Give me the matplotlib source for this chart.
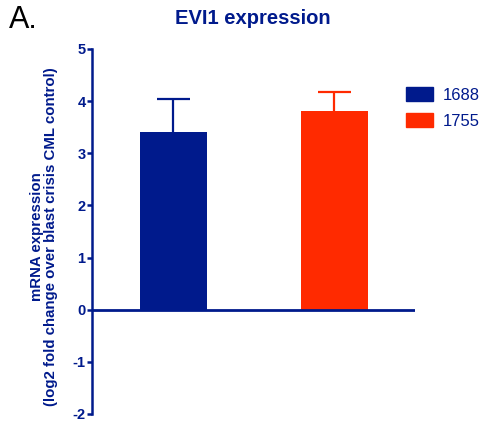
import matplotlib
matplotlib.use("Agg")
import matplotlib.pyplot as plt
from matplotlib.patches import Patch

plt.rcParams['font.family'] = ['Liberation Sans', 'DejaVu Sans']

categories = ["1688", "1755"]
values = [3.40, 3.81]
errors = [0.63, 0.36]
colors = ["#001a8c", "#ff2a00"]
yticks = [-2, -1, 0, 1, 2, 3, 4, 5]

blue = "#001a8c"
bar_w = 0.416
cap_w = 0.205

fig = plt.figure(figsize=(4.87, 4.26), dpi=100)
ax = fig.add_axes([0.1889, 0.0282, 0.663, 0.857])

x = [0, 1]
for xi, v, e, c in zip(x, values, errors, colors):
    ax.bar(xi, v, width=bar_w, color=c, zorder=2)
    ax.vlines(xi, v, v + e, color=c, lw=1.6, zorder=1)
    ax.hlines(v + e, xi - cap_w / 2, xi + cap_w / 2, color=c, lw=1.6, zorder=1)

ax.axhline(0, color=blue, lw=2.0, zorder=3)
ax.set_xlim(-0.506, 1.5)
ax.set_ylim(-2, 5)
ax.set_yticks(yticks)
ax.set_yticklabels([str(t) for t in yticks], fontsize=10.5, fontweight='bold', color=blue)
ax.tick_params(axis='y', direction='out', length=3.6, width=1.8, color=blue, pad=1)
ax.set_xticks([])
for s in ['top', 'right', 'bottom']:
    ax.spines[s].set_visible(False)
ax.spines['left'].set_color(blue)
ax.spines['left'].set_linewidth(1.8)

fig.text(0.09, 0.444, "mRNA expression\n(log2 fold change over blast crisis CML control)",
         rotation=90, ha='center', va='center', multialignment='center',
         fontsize=10.8, fontweight='bold', color=blue, linespacing=1.05)

fig.text(0.52, 0.957, "EVI1 expression", ha='center', va='center',
         fontsize=14.5, fontweight='bold', color=blue)
fig.text(0.018, 0.952, "A.", ha='left', va='center', fontsize=22, color='black')

handles = [Patch(facecolor=c, edgecolor=c) for c in colors]
leg = fig.legend(handles, categories, loc='upper left', bbox_to_anchor=(0.834, 0.796),
                 frameon=False, fontsize=12, handlelength=1.62, handleheight=0.96,
                 labelspacing=0.6, handletextpad=0.6, borderpad=0, borderaxespad=0)
for t in leg.get_texts():
    t.set_color(blue)

fig.savefig("out.png", dpi=100)
